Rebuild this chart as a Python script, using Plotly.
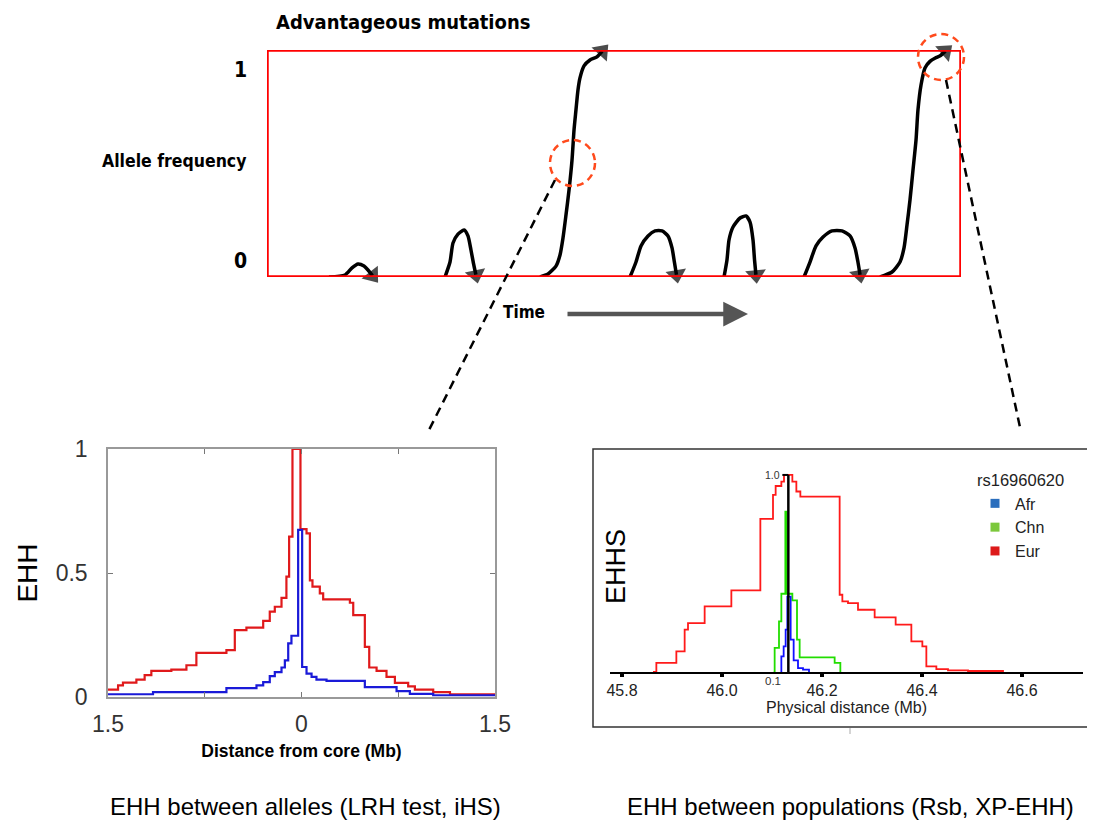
import plotly.graph_objects as go

W, H = 1095, 827
OFF = 8  # page body margin offset of the rendered page
def px(x): return (x - OFF) / W
def py(y): return 1 - (y - OFF) / H

# ---------------- Top panel: allele frequency trajectories (time 0..1, freq 0..1)
traj1_t = [0.0893, 0.1124, 0.1225, 0.1311, 0.1398, 0.1455, 0.1520]
traj1_f = [0.0, 0.009, 0.040, 0.057, 0.048, 0.031, 0.006]
traj2_t = [0.2565, 0.2637, 0.2680, 0.2752, 0.2839, 0.2896, 0.2939, 0.2975, 0.3010]
traj2_f = [0.0, 0.066, 0.150, 0.189, 0.207, 0.181, 0.119, 0.060, 0.01]
traj3_t = [0.3934, 0.4049, 0.4164, 0.4222, 0.4265, 0.4308, 0.4352, 0.4395, 0.4424, 0.4452, 0.4481, 0.4510, 0.4568, 0.4654, 0.4755, 0.4830]
traj3_f = [0.0, 0.013, 0.048, 0.097, 0.172, 0.273, 0.383, 0.515, 0.648, 0.736, 0.824, 0.877, 0.930, 0.956, 0.970, 0.995]
traj4_t = [0.5231, 0.5317, 0.5389, 0.5490, 0.5591, 0.5692, 0.5778, 0.5836, 0.5870, 0.5900]
traj4_f = [0.0, 0.066, 0.137, 0.181, 0.203, 0.203, 0.181, 0.128, 0.066, 0.01]
traj5_t = [0.6585, 0.6628, 0.6657, 0.6715, 0.6816, 0.6902, 0.6960, 0.7003, 0.7025, 0.7045]
traj5_f = [0.0, 0.075, 0.163, 0.220, 0.260, 0.269, 0.242, 0.163, 0.075, 0.01]
traj6_t = [0.7738, 0.7824, 0.7911, 0.8012, 0.8141, 0.8285, 0.8401, 0.8473, 0.8515, 0.8545]
traj6_f = [0.0, 0.066, 0.137, 0.176, 0.203, 0.203, 0.181, 0.128, 0.066, 0.01]
traj7_t = [0.8833, 0.9006, 0.9121, 0.9179, 0.9222, 0.9265, 0.9308, 0.9352, 0.9380, 0.9424, 0.9481, 0.9553, 0.9630, 0.9700, 0.9775]
traj7_f = [0.0, 0.022, 0.066, 0.128, 0.229, 0.339, 0.471, 0.604, 0.736, 0.846, 0.921, 0.950, 0.965, 0.975, 0.995]
trajectories = [(traj1_t, traj1_f), (traj2_t, traj2_f), (traj3_t, traj3_f), (traj4_t, traj4_f),
                (traj5_t, traj5_f), (traj6_t, traj6_f), (traj7_t, traj7_f)]

# ---------------- Bottom-left: EHH between alleles
ehh_red_x = [-1.5, -1.422, -1.384, -1.280, -1.216, -1.164, -1.009, -0.892, -0.815, -0.582, -0.517, -0.427,
             -0.297, -0.246, -0.207, -0.155, -0.117, -0.096, -0.070, -0.008, 0.039, 0.065, 0.085, 0.142,
             0.168, 0.375, 0.401, 0.491, 0.525, 0.582, 0.659, 0.724, 0.827, 0.879, 1.021, 1.151, 1.5]
ehh_red_y = [0.03, 0.047, 0.058, 0.07, 0.088, 0.105, 0.11, 0.128, 0.178, 0.189, 0.27, 0.28, 0.307, 0.344,
             0.364, 0.40, 0.485, 0.647, 1.0, 0.677, 0.66, 0.47, 0.445, 0.418, 0.394, 0.38, 0.33, 0.202,
             0.119, 0.105, 0.081, 0.057, 0.043, 0.03, 0.02, 0.011, 0.011]
ehh_blue_x = [-1.5, -1.151, -0.582, -0.349, -0.297, -0.246, -0.207, -0.155, -0.129, -0.103, -0.078, -0.026,
              0.005, 0.039, 0.078, 0.116, 0.194, 0.491, 0.737, 0.840, 1.021, 1.5]
ehh_blue_y = [0.011, 0.02, 0.036, 0.047, 0.06, 0.084, 0.10, 0.119, 0.148, 0.216, 0.247, 0.674, 0.121, 0.094,
              0.081, 0.07, 0.065, 0.04, 0.024, 0.013, 0.007, 0.007]
left_tickvals = [-1.5, -0.75, 0, 0.75, 1.5]
left_ticktext = ["1.5", "", "0", "", "1.5"]

# ---------------- Bottom-right: EHHS between populations
eur_x = [45.862, 45.8687, 45.9087, 45.9253, 45.932, 45.9653, 46.0187, 46.0767, 46.102, 46.1073, 46.1187,
         46.124, 46.1407, 46.1487, 46.1567, 46.2353, 46.2407, 46.252, 46.272, 46.3053, 46.3473, 46.3787,
         46.4007, 46.4087, 46.4287, 46.452, 46.492, 46.562]
eur_y = [0.0, 0.046, 0.105, 0.215, 0.248, 0.333, 0.414, 0.777, 0.899, 0.944, 0.966, 1.0, 0.966, 0.916, 0.89,
         0.392, 0.358, 0.35, 0.316, 0.277, 0.24, 0.155, 0.13, 0.029, 0.015, 0.008, 0.005, 0.0]
chn_x = [46.1033, 46.1053, 46.114, 46.1187, 46.1267, 46.1293, 46.1407, 46.15, 46.1553, 46.2253, 46.2367]
chn_y = [0.0, 0.122, 0.257, 0.397, 0.814, 0.397, 0.363, 0.164, 0.074, 0.046, 0.0]
afr_x = [46.1173, 46.1187, 46.1233, 46.1273, 46.1307, 46.1373, 46.1433, 46.152, 46.162, 46.174]
afr_y = [0.0, 0.079, 0.13, 0.215, 0.383, 0.164, 0.059, 0.02, 0.012, 0.0]
core_position = 46.1327
right_tickvals = [45.8, 46.0, 46.2, 46.4, 46.6]
right_ticktext = ["45.8", "46.0", "46.2", "46.4", "46.6"]
pop_names = ["Afr", "Chn", "Eur"]
pop_legend_colors = ["#2a6ebd", "#7cc83c", "#dd1a1a"]

BOLD = "DejaVu Sans Condensed, DejaVu Sans, sans-serif"
SANS = "Liberation Sans, Arial, sans-serif"

fig = go.Figure()

for t, f in trajectories:
    n = len(t)
    fig.add_trace(go.Scatter(
        x=t, y=f, mode="lines+markers", xaxis="x", yaxis="y",
        line=dict(color="black", width=3.5, shape="spline", smoothing=0.6),
        marker=dict(symbol=["circle"] * (n - 1) + ["triangle-up"], size=[0] * (n - 1) + [18],
                    color="black", angleref="previous", line=dict(width=0)),
        cliponaxis=False, showlegend=False, hoverinfo="skip"))

fig.add_trace(go.Scatter(x=ehh_red_x, y=ehh_red_y, mode="lines", xaxis="x2", yaxis="y2",
                         line=dict(color="#e0191b", width=2.2, shape="hv"), showlegend=False))
fig.add_trace(go.Scatter(x=ehh_blue_x, y=ehh_blue_y, mode="lines", xaxis="x2", yaxis="y2",
                         line=dict(color="#1a1ad8", width=2.2, shape="hv"), showlegend=False))

fig.add_trace(go.Scatter(x=eur_x, y=eur_y, mode="lines", xaxis="x3", yaxis="y3",
                         line=dict(color="#ff1a1a", width=1.8, shape="hv"), showlegend=False))
fig.add_trace(go.Scatter(x=chn_x, y=chn_y, mode="lines", xaxis="x3", yaxis="y3",
                         line=dict(color="#22dd00", width=1.8, shape="hv"), showlegend=False))
fig.add_trace(go.Scatter(x=afr_x, y=afr_y, mode="lines", xaxis="x3", yaxis="y3",
                         line=dict(color="#1010ff", width=1.8, shape="hv"), showlegend=False))
for name, col in zip(pop_names, pop_legend_colors):
    fig.add_trace(go.Scatter(x=[None], y=[None], mode="markers", xaxis="x3", yaxis="y3", name=name,
                             marker=dict(symbol="square", size=9, color=col)))

shapes = [
    dict(type="rect", xref="x", yref="y", x0=0, x1=1, y0=0, y1=1, line=dict(color="#ff0000", width=3.5)),
    dict(type="circle", xref="paper", yref="paper", x0=px(550), x1=px(595), y0=py(186), y1=py(140),
         line=dict(color="#ff4a1c", width=2.5, dash="7px,5px")),
    dict(type="circle", xref="paper", yref="paper", x0=px(918), x1=px(964), y0=py(80), y1=py(34),
         line=dict(color="#ff4a1c", width=2.5, dash="7px,5px")),
    dict(type="line", xref="paper", yref="paper", x0=px(555), y0=py(180), x1=px(428), y1=py(432),
         line=dict(color="black", width=2.5, dash="9px,6px")),
    dict(type="line", xref="paper", yref="paper", x0=px(946), y0=py(80), x1=px(1021), y1=py(432),
         line=dict(color="black", width=2.5, dash="9px,6px")),
    dict(type="rect", xref="paper", yref="paper", x0=px(593), x1=px(1093), y0=py(727), y1=py(449),
         line=dict(color="#333333", width=1.5)),
    dict(type="line", xref="x3", yref="y3", x0=core_position, x1=core_position, y0=0, y1=1.0,
         line=dict(color="black", width=2.5)),
    dict(type="line", xref="x3", yref="y3", x0=core_position - 0.012, x1=core_position, y0=1.0, y1=1.0,
         line=dict(color="black", width=2)),
    dict(type="line", xref="paper", yref="paper", x0=px(850), x1=px(850), y0=py(728), y1=py(734),
         line=dict(color="#aaaaaa", width=1)),
]

def note(text, x, y, size, family=SANS, color="black", xanchor="center", **kw):
    return dict(text=text, x=px(x), y=py(y), xref="paper", yref="paper", xanchor=xanchor,
                yanchor="middle", showarrow=False, font=dict(family=family, size=size, color=color), **kw)

annotations = [
    note("<b>Advantageous mutations</b>", 403, 22, 20, BOLD),
    note("<b>Allele frequency</b>", 248, 161, 17.5, BOLD, xanchor="right"),
    note("<b>1</b>", 249, 70, 21, BOLD, xanchor="right"),
    note("<b>0</b>", 249, 261, 21, BOLD, xanchor="right"),
    note("<b>Time</b>", 524, 312, 17, BOLD),
    dict(text="", x=px(748), y=py(314), ax=-182, ay=0, xref="paper", yref="paper",
         axref="pixel", ayref="pixel", showarrow=True, arrowhead=2, arrowsize=1.1, arrowwidth=4.5,
         arrowcolor="#555555"),
    note("EHHS", 616, 567, 27, textangle=-90),
    dict(text="1.0", x=core_position - 0.013, y=1.0, xref="x3", yref="y3", xanchor="right",
         yanchor="middle", showarrow=False, font=dict(family=SANS, size=10.5, color="#333")),
    note("0.1", 773, 681, 11.5, color="#333"),
    note("EHH between alleles (LRH test, iHS)", 305, 806, 24),
    note("EHH between populations (Rsb, XP-EHH)", 851, 806, 24),
]

fig.update_layout(
    width=W, height=H, margin=dict(l=0, r=0, t=0, b=0, pad=0, autoexpand=False),
    paper_bgcolor="white", plot_bgcolor="white",
    font=dict(family=SANS, color="black"),
    xaxis=dict(domain=[px(267), px(961)], range=[0, 1], visible=False, anchor="y"),
    yaxis=dict(domain=[py(277), py(50)], range=[0, 1], visible=False, anchor="x"),
    xaxis2=dict(domain=[px(108), px(495)], range=[-1.5, 1.5], anchor="y2", showgrid=False, zeroline=False,
                showline=True, linecolor="#999999", linewidth=1.5, mirror="ticks", ticks="inside",
                ticklen=5, tickcolor="#777777", tickvals=left_tickvals, ticktext=left_ticktext,
                tickfont=dict(size=23, color="#333333"), ticklabelstandoff=6, automargin=False,
                title=dict(text="<b>Distance from core (Mb)</b>", standoff=8,
                           font=dict(size=17.5, color="black", family=SANS))),
    yaxis2=dict(domain=[py(697), py(449)], range=[0, 1], anchor="x2", showgrid=False, zeroline=False,
                showline=True, linecolor="#999999", linewidth=1.5, mirror="ticks", ticks="inside",
                ticklen=5, tickcolor="#777777", tickvals=[0, 0.5, 1], ticktext=["0", "0.5", "1"],
                tickfont=dict(size=23, color="#333333"), ticklabelstandoff=14, automargin=False,
                title=dict(text="EHH", standoff=10, font=dict(size=28, color="black"))),
    xaxis3=dict(domain=[px(610), px(1083)], range=[45.776, 46.722], anchor="y3", showgrid=False,
                zeroline=False, showline=True, linecolor="black", linewidth=2, ticks="outside",
                ticklen=3, tickwidth=4, tickcolor="black", tickvals=right_tickvals, automargin=False,
                ticktext=right_ticktext, tickfont=dict(size=16, color="#222222"),
                title=dict(text="Physical distance (Mb)", standoff=4, font=dict(size=16, color="#222222"))),
    yaxis3=dict(domain=[py(672), py(471)], range=[0, 1.02], anchor="x3", visible=False),
    legend=dict(x=px(975), y=py(465), xanchor="left", yanchor="top", bgcolor="rgba(0,0,0,0)",
                title=dict(text="rs16960620", font=dict(size=16.5, color="#222222")),
                font=dict(size=16, color="#222222"), tracegroupgap=0, itemwidth=30),
    shapes=shapes, annotations=annotations,
)

fig.write_html("out.html")
